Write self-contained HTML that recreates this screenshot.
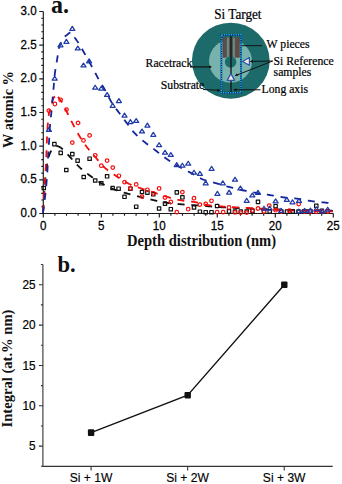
<!DOCTYPE html>
<html><head><meta charset="utf-8"><style>
html,body{margin:0;padding:0;background:#fff;}
body{width:342px;height:484px;overflow:hidden;font-family:"Liberation Sans",sans-serif;}
svg{display:block;}
</style></head><body>
<svg width="342" height="484" viewBox="0 0 342 484">
<rect width="342" height="484" fill="#fff"/>
<g stroke="#1a1a1a" stroke-width="1.15" fill="none">
<path d="M43.3 11.5V213.5H333.3"/>
<path d="M43.3 213.50h-4.0M43.3 206.77h-2.0M43.3 200.03h-2.0M43.3 193.30h-2.0M43.3 186.57h-2.0M43.3 179.84h-4.0M43.3 173.10h-2.0M43.3 166.37h-2.0M43.3 159.64h-2.0M43.3 152.90h-2.0M43.3 146.17h-4.0M43.3 139.44h-2.0M43.3 132.70h-2.0M43.3 125.97h-2.0M43.3 119.24h-2.0M43.3 112.50h-4.0M43.3 105.77h-2.0M43.3 99.04h-2.0M43.3 92.31h-2.0M43.3 85.57h-2.0M43.3 78.84h-4.0M43.3 72.11h-2.0M43.3 65.37h-2.0M43.3 58.64h-2.0M43.3 51.91h-2.0M43.3 45.18h-4.0M43.3 38.44h-2.0M43.3 31.71h-2.0M43.3 24.98h-2.0M43.3 18.24h-2.0M43.3 11.51h-4.0"/>
<path d="M43.30 213.5v4.0M54.90 213.5v2.2M66.50 213.5v2.2M78.10 213.5v2.2M89.70 213.5v2.2M101.30 213.5v4.0M112.90 213.5v2.2M124.50 213.5v2.2M136.10 213.5v2.2M147.70 213.5v2.2M159.30 213.5v4.0M170.90 213.5v2.2M182.50 213.5v2.2M194.10 213.5v2.2M205.70 213.5v2.2M217.30 213.5v4.0M228.90 213.5v2.2M240.50 213.5v2.2M252.10 213.5v2.2M263.70 213.5v2.2M275.30 213.5v4.0M286.90 213.5v2.2M298.50 213.5v2.2M310.10 213.5v2.2M321.70 213.5v2.2M333.30 213.5v4.0"/>
</g>
<g font-family="Liberation Sans, sans-serif" font-size="11.6" fill="#000" stroke="#000" stroke-width="0.25" text-anchor="end">
<text transform="translate(36.6 217.00) scale(1 1.05)">0.0</text>
<text transform="translate(36.6 183.34) scale(1 1.05)">0.5</text>
<text transform="translate(36.6 149.67) scale(1 1.05)">1.0</text>
<text transform="translate(36.6 116.00) scale(1 1.05)">1.5</text>
<text transform="translate(36.6 82.34) scale(1 1.05)">2.0</text>
<text transform="translate(36.6 48.68) scale(1 1.05)">2.5</text>
<text transform="translate(36.6 15.01) scale(1 1.05)">3.0</text>
</g>
<g font-family="Liberation Sans, sans-serif" font-size="11.6" fill="#000" stroke="#000" stroke-width="0.25" text-anchor="middle">
<text transform="translate(43.30 229.7) scale(1 1.05)">0</text>
<text transform="translate(101.30 229.7) scale(1 1.05)">5</text>
<text transform="translate(159.30 229.7) scale(1 1.05)">10</text>
<text transform="translate(217.30 229.7) scale(1 1.05)">15</text>
<text transform="translate(275.30 229.7) scale(1 1.05)">20</text>
<text transform="translate(333.30 229.7) scale(1 1.05)">25</text>
</g>
<text transform="translate(127 245.5) scale(1 1.1)" font-family="Liberation Serif, serif" font-weight="bold" font-size="14.6" fill="#111">Depth distribution (nm)</text>
<text transform="translate(13.3 109.5) rotate(-90)" text-anchor="middle" font-family="Liberation Serif, serif" font-weight="bold" font-size="14.3" fill="#111">W atomic %</text>
<text transform="translate(51 13.2) scale(1 1.05)" font-family="Liberation Serif, serif" font-weight="bold" font-size="24" fill="#111">a.</text>
<path d="M43.00 213.00L43.02 212.67L43.05 212.29L43.08 211.85L43.11 211.37L43.15 210.84L43.18 210.28L43.22 209.69L43.27 209.06L43.31 208.42L43.36 207.75L43.40 207.07L43.45 206.38L43.50 205.68L43.54 204.98L43.59 204.28L43.63 203.59L43.68 202.91L43.72 202.25L43.76 201.61L43.80 201.00L43.84 200.40L43.87 199.80L43.91 199.20L43.94 198.60L43.97 198.00L44.01 197.40L44.04 196.80L44.07 196.20L44.11 195.60L44.14 195.00L44.17 194.40L44.20 193.80L44.24 193.20L44.27 192.60L44.31 192.00L44.34 191.40L44.38 190.80L44.42 190.20L44.46 189.60L44.50 189.00L44.54 188.40L44.59 187.80L44.63 187.19L44.68 186.58L44.72 185.98L44.77 185.37L44.82 184.76L44.86 184.15L44.91 183.54L44.96 182.94L45.01 182.33L45.06 181.73L45.12 181.13L45.17 180.53L45.22 179.93L45.28 179.34L45.33 178.75L45.39 178.16L45.44 177.58L45.50 177.00L45.56 176.42L45.62 175.85L45.68 175.27L45.74 174.69L45.80 174.11L45.86 173.53L45.92 172.96L45.98 172.38L46.05 171.81L46.11 171.25L46.18 170.69L46.24 170.14L46.31 169.59L46.38 169.05L46.45 168.52L46.52 167.99L46.59 167.48L46.66 166.97L46.73 166.48L46.80 166.00L46.87 165.53L46.95 165.07L47.02 164.61L47.10 164.17L47.17 163.73L47.25 163.30L47.33 162.88L47.40 162.46L47.48 162.06L47.56 161.66L47.64 161.26L47.72 160.88L47.81 160.50L47.89 160.12L47.97 159.75L48.06 159.39L48.14 159.04L48.23 158.69L48.31 158.34L48.40 158.00L48.49 157.67L48.57 157.34L48.66 157.03L48.75 156.72L48.84 156.43L48.92 156.13L49.01 155.85L49.10 155.57L49.19 155.30L49.28 155.03L49.37 154.77L49.47 154.51L49.56 154.25L49.66 154.00L49.76 153.75L49.86 153.50L49.97 153.25L50.08 153.00L50.19 152.75L50.30 152.50L50.42 152.25L50.53 152.00L50.65 151.74L50.78 151.49L50.90 151.24L51.03 150.99L51.15 150.74L51.28 150.50L51.42 150.26L51.55 150.02L51.69 149.79L51.82 149.56L51.96 149.34L52.11 149.12L52.25 148.91L52.40 148.71L52.54 148.52L52.69 148.34L52.85 148.16L53.00 148.00L53.16 147.85L53.32 147.70L53.48 147.56L53.65 147.42L53.82 147.29L53.99 147.17L54.17 147.06L54.34 146.95L54.52 146.85L54.70 146.76L54.88 146.67L55.06 146.59L55.24 146.52L55.42 146.45L55.61 146.39L55.79 146.34L55.97 146.29L56.15 146.25L56.32 146.22L56.50 146.20L56.67 146.18L56.85 146.18" fill="none" stroke="#111" stroke-width="1.80" stroke-dasharray="7.00 6.80" stroke-dashoffset="12.70"/>
<path d="M56.85 146.18L57.02 146.18L57.19 146.18L57.36 146.20L57.53 146.22L57.71 146.25L57.88 146.29L58.05 146.33L58.22 146.38L58.39 146.44L58.56 146.50L58.74 146.57L58.91 146.64L59.09 146.72L59.27 146.81L59.45 146.90L59.63 146.99L59.81 147.09L60.00 147.20L60.19 147.31L60.37 147.42L60.56 147.54L60.74 147.66L60.92 147.79L61.11 147.93L61.29 148.07L61.48 148.21L61.67 148.36L61.86 148.52L62.05 148.68L62.25 148.85L62.45 149.03L62.65 149.22L62.86 149.41L63.08 149.61L63.30 149.82L63.52 150.04L63.76 150.26L64.00 150.50L64.24 150.74L64.49 150.99L64.73 151.24L64.98 151.50L65.23 151.76L65.48 152.03L65.73 152.31L65.99 152.60L66.26 152.89L66.53 153.19L66.81 153.51L67.10 153.83L67.40 154.16L67.70 154.50L68.02 154.85L68.35 155.22L68.69 155.59L69.05 155.98L69.42 156.38L69.80 156.80L70.20 157.24L70.62 157.70L71.06 158.18L71.52 158.69L71.99 159.21L72.47 159.75L72.97 160.30L73.47 160.86L73.98 161.43L74.50 162.00L75.02 162.57L75.55 163.15L76.08 163.72L76.61 164.28L77.14 164.84L77.66 165.38L78.18 165.92L78.70 166.43L79.20 166.93L79.70 167.40L80.19 167.86L80.68 168.30L81.16 168.73L81.64 169.15L82.11 169.56L82.59 169.97L83.06 170.36L83.54 170.75L84.01 171.14L84.49 171.52L84.97 171.90L85.45 172.27L85.93 172.64L86.42 173.02L86.92 173.39L87.42 173.76L87.93 174.14L88.44 174.52L88.97 174.91L89.50 175.30L90.04 175.70L90.59 176.10L91.14 176.50L91.70 176.91L92.27 177.32L92.84 177.73L93.41 178.14L93.99 178.55L94.57 178.96L95.16 179.36L95.75 179.77L96.35 180.17L96.95 180.57L97.55 180.96L98.15 181.35L98.76 181.74L99.37 182.11L99.98 182.48L100.59 182.85L101.20 183.20L101.81 183.55L102.43 183.89L103.05 184.23L103.67 184.56L104.29 184.89L104.92 185.21L105.54 185.53L106.17 185.85L106.81 186.16L107.44 186.46L108.08 186.76L108.73 187.06L109.37 187.35L110.02 187.64L110.68 187.93L111.33 188.21L111.99 188.49L112.66 188.76L113.33 189.03L114.00 189.30L114.68 189.56L115.38 189.82L116.08 190.08L116.80 190.33L117.52 190.57L118.25 190.81L118.98 191.05L119.72 191.29L120.46 191.52L121.19 191.74L121.93 191.97L122.66 192.18L123.39 192.40L124.11 192.61L124.82 192.82L125.52 193.02L126.21 193.22L126.89 193.42L127.55 193.61L128.20 193.80L128.83 193.98L129.43 194.16L130.02 194.33L130.60 194.49L131.16 194.65L131.71 194.80L132.25 194.94L132.78 195.09L133.32 195.23L133.84 195.37L134.37 195.51L134.90 195.64L135.44 195.78L135.98 195.92L136.53 196.06L137.09 196.20L137.67 196.34L138.26 196.49L138.87 196.64L139.50 196.80L140.15 196.96L140.81 197.13L141.50 197.30L142.19 197.47L142.90 197.64L143.61 197.82L144.34 197.99L145.07 198.17L145.81 198.35L146.55 198.53L147.29 198.70L148.04 198.88L148.78 199.05L149.52 199.23L150.25 199.40L150.98 199.56L151.70 199.73L152.41 199.89L153.11 200.05L153.80 200.20L154.47 200.35L155.14 200.50L155.79 200.64L156.44 200.79L157.08 200.93L157.71 201.07L158.34 201.21L158.97 201.35L159.59 201.49L160.22 201.62L160.84 201.75L161.47 201.88L162.10 202.00L162.73 202.13L163.37 202.25L164.02 202.36L164.68 202.48L165.34 202.59L166.01 202.70L166.70 202.80L167.40 202.90L168.10 203.00L168.82 203.09L169.54 203.18L170.27 203.26L171.01 203.35L171.75 203.43L172.50 203.50L173.25 203.58L174.00 203.65L174.75 203.72L175.51 203.79L176.27 203.86L177.02 203.92L177.78 203.99L178.53 204.05L179.28 204.11L180.02 204.18L180.76 204.24L181.50 204.30L182.23 204.36L182.96 204.42L183.70 204.48L184.43 204.53L185.16 204.58L185.89 204.63L186.62 204.68L187.35 204.73L188.07 204.78L188.80 204.83L189.53 204.87L190.25 204.92L190.97 204.96L191.70 205.01L192.42 205.05L193.14 205.10L193.85 205.15L194.57 205.20L195.29 205.25L196.00 205.30L196.71 205.35L197.43 205.41L198.14 205.46L198.86 205.52L199.57 205.57L200.28 205.63L201.00 205.69L201.71 205.74L202.42 205.80L203.12 205.86L203.83 205.91L204.53 205.97L205.23 206.03L205.93 206.08L206.62 206.14L207.30 206.19L207.99 206.24L208.66 206.30L209.33 206.35L210.00 206.40L210.64 206.45L211.24 206.50L211.81 206.54L212.36 206.59L212.88 206.63L213.39 206.67L213.89 206.71L214.39 206.76L214.89 206.80L215.41 206.84L215.94 206.88L216.49 206.92L217.08 206.96L217.69 207.01L218.36 207.05L219.06 207.10L219.83 207.15L220.65 207.19L221.54 207.25L222.50 207.30L223.52 207.36L224.59 207.41L225.69 207.47L226.84 207.54L228.03 207.60L229.25 207.66L230.52 207.73L231.82 207.80L233.16 207.86L234.53 207.93L235.94 208.00L237.38 208.07L238.85 208.14L240.36 208.20L241.89 208.27L243.46 208.34L245.05 208.41L246.68 208.47L248.33 208.54L250.00 208.60L251.71 208.66L253.48 208.72L255.29 208.79L257.15 208.85L259.05 208.91L260.99 208.97L262.96 209.04L264.96 209.10L266.98 209.16L269.03 209.22L271.10 209.28L273.18 209.34L275.28 209.40L277.39 209.46L279.50 209.52L281.61 209.57L283.72 209.63L285.82 209.69L287.92 209.74L290.00 209.80L292.13 209.86L294.37 209.91L296.70 209.97L299.10 210.03L301.55 210.09L304.03 210.15L306.54 210.20L309.05 210.26L311.54 210.32L314.00 210.38L316.41 210.43L318.75 210.48L321.01 210.53L323.17 210.58L325.20 210.63L327.10 210.67L328.85 210.71L330.43 210.74L331.82 210.77L333.00 210.80" fill="none" stroke="#111" stroke-width="1.80" stroke-dasharray="7.00 6.80" stroke-dashoffset="0.00"/>
<path d="M43.00 213.00L43.01 212.89L43.02 212.78L43.02 212.66L43.03 212.54L43.04 212.42L43.05 212.28L43.06 212.14L43.07 211.98L43.08 211.82L43.09 211.63L43.11 211.43L43.12 211.21L43.14 210.96L43.16 210.70L43.18 210.41L43.20 210.09L43.22 209.74L43.24 209.36L43.27 208.95L43.30 208.50L43.33 208.01L43.37 207.48L43.40 206.90L43.44 206.29L43.49 205.64L43.53 204.96L43.57 204.25L43.62 203.53L43.67 202.78L43.72 202.02L43.77 201.25L43.82 200.46L43.87 199.68L43.92 198.90L43.97 198.11L44.02 197.34L44.06 196.58L44.11 195.83L44.16 195.11L44.20 194.40L44.24 193.71L44.28 193.02L44.33 192.33L44.37 191.64L44.41 190.95L44.45 190.27L44.49 189.58L44.53 188.90L44.57 188.22L44.61 187.54L44.65 186.86L44.68 186.18L44.72 185.50L44.76 184.83L44.80 184.15L44.84 183.48L44.88 182.81L44.92 182.14L44.96 181.47L45.00 180.80L45.04 180.13L45.08 179.47L45.12 178.81L45.16 178.16L45.20 177.50L45.25 176.85L45.29 176.20L45.33 175.55L45.37 174.90L45.41 174.26L45.45 173.61L45.49 172.96L45.53 172.31L45.57 171.66L45.61 171.01L45.65 170.35L45.69 169.69L45.73 169.03L45.76 168.37L45.80 167.70L45.83 167.03L45.87 166.35L45.90 165.68L45.93 165.00L45.97 164.31L46.00 163.63L46.03 162.95L46.06 162.26L46.09 161.57L46.12 160.88L46.15 160.19L46.18 159.50L46.21 158.81L46.23 158.12L46.26 157.43L46.29 156.74L46.32 156.06L46.34 155.37L46.37 154.68L46.40 154.00L46.43 153.32L46.45 152.64L46.48 151.95L46.50 151.27L46.53 150.59L46.55 149.91L46.57 149.22L46.60 148.54L46.62 147.86L46.64 147.18L46.67 146.50L46.69 145.82L46.71 145.14L46.74 144.46L46.76 143.78L46.79 143.11L46.82 142.43L46.84 141.75L46.87 141.08L46.90 140.40L46.93 139.73L46.96 139.05L46.99 138.38L47.02 137.70L47.05 137.03L47.08 136.35L47.11 135.68L47.14 135.01L47.17 134.33L47.20 133.66L47.23 132.99L47.27 132.32L47.30 131.65L47.34 130.98L47.38 130.32L47.42 129.65L47.46 128.99L47.50 128.32L47.55 127.66L47.60 127.00L47.65 126.34L47.70 125.67L47.75 124.99L47.80 124.32L47.86 123.64L47.91 122.96L47.97 122.28L48.02 121.60L48.08 120.93L48.14 120.26L48.21 119.59L48.27 118.93L48.34 118.28L48.41 117.63L48.48 116.99L48.56 116.37L48.64 115.76L48.72 115.16L48.81 114.57L48.90 114.00L49.00 113.44L49.10 112.89L49.20 112.35L49.31 111.82L49.43 111.30L49.55 110.79L49.67 110.28L49.80 109.79L49.92 109.30L50.05 108.83L50.18 108.36L50.31 107.89L50.44 107.44L50.57 107.00L50.70 106.56L50.82 106.13L50.95 105.71L51.07 105.30L51.19 104.90L51.30 104.50L51.41 104.11L51.52 103.73L51.63 103.35L51.73 102.99L51.83 102.63L51.94 102.27L52.04 101.93L52.14 101.60L52.24 101.27L52.34 100.95L52.44 100.64L52.54 100.34L52.64 100.05L52.74 99.77L52.85 99.50L52.95 99.24L53.06 98.99L53.17 98.75L53.28 98.52L53.40 98.30L53.52 98.09L53.64 97.89L53.76 97.71L53.89 97.53L54.02 97.36L54.15 97.20L54.28 97.06L54.41 96.92L54.54 96.79L54.68 96.67L54.81 96.56L54.94 96.46L55.08 96.37L55.21 96.29L55.35 96.22L55.48 96.15L55.61 96.10L55.74 96.06L55.87 96.02L56.00 96.00L56.13 95.99" fill="none" stroke="#f50c0c" stroke-width="1.80" stroke-dasharray="7.00 6.80" stroke-dashoffset="13.15"/>
<path d="M56.13 95.99L56.26 95.99L56.39 96.01L56.52 96.04L56.65 96.08L56.78 96.14L56.91 96.20L57.04 96.27L57.17 96.36L57.29 96.44L57.42 96.54L57.55 96.64L57.67 96.74L57.80 96.85L57.92 96.96L58.04 97.07L58.16 97.18L58.27 97.29L58.39 97.40L58.50 97.50L58.61 97.60L58.71 97.71L58.81 97.82L58.91 97.93L59.00 98.04L59.09 98.16L59.18 98.28L59.27 98.40L59.36 98.52L59.44 98.65L59.53 98.78L59.62 98.91L59.71 99.05L59.80 99.19L59.89 99.33L59.98 99.48L60.08 99.63L60.18 99.78L60.29 99.94L60.40 100.10L60.51 100.26L60.62 100.42L60.74 100.57L60.85 100.72L60.96 100.87L61.08 101.02L61.19 101.18L61.31 101.34L61.43 101.50L61.56 101.67L61.68 101.85L61.81 102.03L61.94 102.23L62.08 102.44L62.22 102.66L62.37 102.89L62.52 103.14L62.67 103.41L62.83 103.70L63.00 104.00L63.17 104.32L63.35 104.66L63.53 105.02L63.71 105.39L63.90 105.77L64.09 106.17L64.29 106.57L64.49 107.00L64.69 107.43L64.90 107.87L65.11 108.32L65.33 108.78L65.55 109.25L65.77 109.73L66.00 110.21L66.23 110.70L66.47 111.19L66.71 111.69L66.95 112.19L67.20 112.70L67.45 113.21L67.71 113.74L67.97 114.27L68.23 114.81L68.50 115.36L68.78 115.92L69.05 116.48L69.33 117.05L69.62 117.63L69.91 118.22L70.20 118.81L70.50 119.41L70.80 120.01L71.10 120.61L71.41 121.22L71.72 121.83L72.03 122.45L72.35 123.06L72.67 123.68L73.00 124.30L73.33 124.93L73.67 125.57L74.02 126.22L74.37 126.89L74.73 127.56L75.09 128.24L75.46 128.93L75.83 129.62L76.21 130.31L76.58 131.00L76.96 131.69L77.34 132.37L77.71 133.05L78.09 133.72L78.47 134.39L78.84 135.04L79.21 135.68L79.58 136.30L79.94 136.91L80.30 137.50L80.65 138.07L81.00 138.63L81.34 139.17L81.68 139.70L82.02 140.23L82.35 140.74L82.68 141.24L83.01 141.73L83.34 142.22L83.67 142.70L84.01 143.18L84.34 143.65L84.68 144.13L85.02 144.60L85.37 145.08L85.72 145.55L86.08 146.03L86.45 146.51L86.82 147.00L87.20 147.50L87.59 148.00L87.98 148.50L88.38 149.00L88.79 149.50L89.20 150.00L89.62 150.49L90.04 150.99L90.46 151.49L90.89 151.99L91.32 152.49L91.75 152.99L92.19 153.49L92.62 153.99L93.06 154.49L93.50 154.99L93.94 155.49L94.38 155.99L94.82 156.49L95.26 157.00L95.70 157.50L96.14 158.01L96.57 158.52L97.00 159.04L97.43 159.56L97.86 160.08L98.29 160.61L98.72 161.13L99.15 161.66L99.58 162.18L100.02 162.71L100.46 163.23L100.90 163.75L101.35 164.26L101.81 164.77L102.27 165.28L102.74 165.78L103.22 166.27L103.70 166.76L104.20 167.23L104.70 167.70L105.21 168.16L105.74 168.61L106.27 169.05L106.81 169.49L107.35 169.92L107.91 170.35L108.46 170.77L109.03 171.19L109.60 171.60L110.18 172.01L110.75 172.41L111.34 172.81L111.93 173.22L112.52 173.61L113.11 174.01L113.70 174.41L114.30 174.81L114.90 175.20L115.50 175.60L116.10 176.00L116.70 176.40L117.31 176.81L117.93 177.22L118.55 177.63L119.17 178.04L119.80 178.45L120.43 178.86L121.07 179.27L121.71 179.67L122.34 180.07L122.98 180.47L123.62 180.86L124.26 181.25L124.90 181.63L125.54 182.00L126.18 182.36L126.81 182.71L127.45 183.05L128.08 183.38L128.70 183.70L129.32 184.00L129.94 184.29L130.56 184.57L131.17 184.84L131.78 185.10L132.40 185.35L133.01 185.59L133.62 185.82L134.23 186.05L134.84 186.27L135.45 186.49L136.06 186.71L136.67 186.92L137.28 187.13L137.90 187.34L138.51 187.55L139.13 187.76L139.75 187.97L140.37 188.18L141.00 188.40L141.63 188.62L142.26 188.83L142.90 189.05L143.53 189.26L144.17 189.47L144.81 189.67L145.45 189.88L146.10 190.08L146.74 190.29L147.39 190.49L148.03 190.69L148.68 190.89L149.32 191.09L149.97 191.29L150.61 191.49L151.25 191.69L151.89 191.89L152.53 192.09L153.17 192.30L153.80 192.50L154.43 192.71L155.06 192.91L155.68 193.12L156.30 193.33L156.91 193.54L157.53 193.75L158.14 193.95L158.75 194.16L159.37 194.37L159.98 194.58L160.60 194.79L161.21 195.00L161.83 195.20L162.46 195.41L163.08 195.61L163.72 195.81L164.35 196.01L164.99 196.21L165.64 196.41L166.30 196.60L166.96 196.79L167.63 196.99L168.30 197.18L168.98 197.38L169.66 197.57L170.35 197.77L171.04 197.96L171.73 198.16L172.43 198.35L173.13 198.54L173.83 198.72L174.53 198.91L175.23 199.09L175.94 199.26L176.65 199.43L177.36 199.60L178.07 199.76L178.78 199.91L179.49 200.06L180.20 200.20L180.91 200.33L181.63 200.45L182.36 200.57L183.09 200.67L183.82 200.77L184.56 200.86L185.30 200.95L186.04 201.03L186.78 201.12L187.52 201.19L188.26 201.27L188.99 201.35L189.73 201.43L190.46 201.51L191.18 201.59L191.90 201.68L192.61 201.78L193.32 201.88L194.01 201.98L194.70 202.10L195.38 202.22L196.04 202.36L196.69 202.49L197.34 202.64L197.97 202.79L198.60 202.94L199.22 203.10L199.84 203.26L200.46 203.41L201.07 203.58L201.69 203.73L202.31 203.89L202.93 204.05L203.56 204.20L204.19 204.35L204.83 204.49L205.48 204.63L206.14 204.76L206.81 204.89L207.50 205.00L208.20 205.11L208.91 205.21L209.64 205.31L210.37 205.40L211.12 205.49L211.87 205.57L212.63 205.66L213.40 205.73L214.16 205.81L214.93 205.88L215.70 205.95L216.47 206.02L217.23 206.08L218.00 206.15L218.75 206.21L219.50 206.27L220.24 206.33L220.97 206.38L221.69 206.44L222.40 206.50L223.09 206.56L223.78 206.61L224.45 206.66L225.12 206.71L225.78 206.75L226.43 206.79L227.08 206.84L227.72 206.88L228.36 206.91L229.00 206.95L229.64 206.99L230.27 207.02L230.91 207.06L231.55 207.09L232.20 207.12L232.84 207.16L233.50 207.19L234.16 207.23L234.82 207.26L235.50 207.30L236.18 207.34L236.86 207.37L237.55 207.41L238.24 207.44L238.92 207.48L239.62 207.51L240.31 207.54L241.01 207.57L241.70 207.61L242.41 207.64L243.11 207.67L243.82 207.70L244.53 207.74L245.24 207.77L245.96 207.81L246.68 207.84L247.40 207.88L248.13 207.92L248.86 207.96L249.60 208.00L250.33 208.04L251.04 208.09L251.74 208.13L252.43 208.17L253.11 208.21L253.79 208.26L254.47 208.30L255.16 208.35L255.85 208.40L256.56 208.44L257.28 208.49L258.01 208.54L258.77 208.59L259.56 208.65L260.37 208.70L261.22 208.76L262.10 208.81L263.02 208.87L263.99 208.94L265.00 209.00L266.04 209.07L267.10 209.14L268.17 209.22L269.27 209.30L270.38 209.38L271.52 209.46L272.68 209.55L273.87 209.64L275.09 209.73L276.34 209.82L277.62 209.91L278.94 210.00L280.29 210.08L281.69 210.17L283.13 210.25L284.61 210.33L286.13 210.40L287.70 210.47L289.33 210.54L291.00 210.60L292.79 210.66L294.74 210.71L296.83 210.76L299.05 210.81L301.36 210.85L303.75 210.90L306.19 210.94L308.66 210.98L311.15 211.02L313.62 211.05L316.07 211.08L318.46 211.11L320.77 211.14L322.98 211.17L325.08 211.20L327.03 211.22L328.82 211.24L330.43 211.26L331.83 211.28L333.00 211.30" fill="none" stroke="#f50c0c" stroke-width="1.80" stroke-dasharray="7.00 6.80" stroke-dashoffset="11.80"/>
<path d="M43.00 213.00L43.04 212.72L43.08 212.40L43.13 212.02L43.18 211.61L43.24 211.16L43.30 210.68L43.37 210.17L43.44 209.63L43.51 209.08L43.59 208.51L43.66 207.93L43.74 207.35L43.82 206.77L43.89 206.18L43.97 205.61L44.04 205.04L44.11 204.50L44.18 203.97L44.24 203.47L44.30 203.00L44.36 202.56L44.41 202.13L44.46 201.72L44.51 201.32L44.56 200.94L44.61 200.56L44.66 200.19L44.71 199.83L44.75 199.46L44.80 199.09L44.85 198.72L44.89 198.35L44.94 197.96L44.99 197.56L45.04 197.15L45.09 196.72L45.14 196.28L45.19 195.81L45.24 195.32L45.30 194.80L45.36 194.26L45.42 193.69L45.48 193.10L45.55 192.49L45.61 191.86L45.68 191.22L45.75 190.57L45.82 189.90L45.89 189.22L45.96 188.54L46.03 187.85L46.09 187.15L46.16 186.46L46.23 185.76L46.30 185.07L46.36 184.38L46.42 183.70L46.48 183.02L46.54 182.35L46.60 181.70L46.65 181.05L46.71 180.41L46.76 179.78L46.81 179.14L46.86 178.51L46.91 177.88L46.95 177.25L47.00 176.62L47.04 175.99L47.09 175.36L47.13 174.73L47.17 174.10L47.22 173.46L47.26 172.83L47.30 172.18L47.34 171.54L47.38 170.89L47.42 170.23L47.46 169.57L47.50 168.90L47.54 168.22L47.58 167.54L47.61 166.86L47.65 166.17L47.68 165.47L47.72 164.78L47.75 164.07L47.78 163.37L47.82 162.66L47.85 161.95L47.88 161.24L47.92 160.52L47.95 159.81L47.98 159.09L48.02 158.38L48.05 157.66L48.09 156.94L48.12 156.23L48.16 155.51L48.20 154.80L48.24 154.09L48.28 153.37L48.33 152.65L48.37 151.93L48.41 151.20L48.46 150.48L48.50 149.75L48.55 149.02L48.60 148.30L48.64 147.57L48.69 146.84L48.74 146.12L48.78 145.39L48.83 144.67L48.88 143.95L48.92 143.23L48.97 142.52L49.01 141.81L49.06 141.10L49.10 140.40L49.14 139.70L49.18 139.00L49.22 138.31L49.26 137.61L49.30 136.92L49.33 136.23L49.37 135.55L49.40 134.86L49.44 134.18L49.48 133.49L49.51 132.81L49.55 132.14L49.59 131.46L49.63 130.79L49.67 130.12L49.71 129.45L49.75 128.78L49.80 128.12L49.85 127.46L49.90 126.80L49.95 126.15L50.01 125.50L50.07 124.86L50.13 124.22L50.19 123.59L50.25 122.96L50.32 122.34L50.38 121.72L50.45 121.10L50.52 120.47L50.59 119.85L50.66 119.23L50.73 118.61L50.79 117.98L50.86 117.35L50.93 116.71L51.00 116.07L51.07 115.42L51.13 114.76L51.20 114.10L51.27 113.43L51.33 112.74L51.40 112.05L51.46 111.36L51.53 110.65L51.60 109.94L51.66 109.23L51.73 108.51L51.80 107.79L51.86 107.08L51.93 106.36L51.99 105.64L52.06 104.93L52.12 104.22L52.19 103.51L52.25 102.81L52.32 102.12L52.38 101.44L52.44 100.76L52.50 100.10L52.56 99.45L52.62 98.81L52.67 98.18L52.73 97.57L52.78 96.96L52.84 96.35L52.89 95.76L52.94 95.16L53.00 94.57L53.05 93.98L53.10 93.39L53.16 92.80L53.21 92.20L53.26 91.60L53.32 90.99L53.37 90.37L53.43 89.75L53.48 89.11L53.54 88.46L53.60 87.80L53.66 87.12L53.72 86.43L53.78 85.72L53.84 85.01L53.89 84.28L53.95 83.55L54.01 82.80L54.07 82.06L54.13 81.31L54.19 80.56L54.26 79.80L54.32 79.05L54.39 78.31L54.45 77.56L54.52 76.83L54.59 76.10L54.67 75.38L54.74 74.67L54.82 73.98L54.90 73.30L54.98 72.63L55.07 71.97L55.16 71.33L55.26 70.69L55.35 70.05L55.45 69.43L55.55 68.80L55.65 68.19L55.75 67.58L55.86 66.97L55.96 66.36L56.07 65.76L56.17 65.16L56.28 64.55L56.38 63.95L56.49 63.35L56.59 62.74L56.70 62.13L56.80 61.52L56.90 60.90L57.00 60.27L57.10 59.63L57.20 58.97L57.30 58.30L57.40 57.63L57.51 56.95L57.61 56.27L57.71 55.59L57.81 54.92L57.91 54.25L58.01 53.59L58.11 52.94L58.21 52.31L58.31 51.69L58.41 51.09L58.51 50.52L58.61 49.97L58.71 49.45L58.80 48.96L58.90 48.50L58.99 48.08L59.09 47.69L59.18 47.33L59.26 47.00L59.35 46.69L59.44 46.41L59.52 46.14L59.61 45.90L59.70 45.66L59.78 45.44L59.87 45.23L59.95 45.03L60.04 44.83L60.13 44.63L60.22 44.42L60.31 44.22L60.40 44.01L60.50 43.78L60.60 43.55L60.70 43.30L60.80 43.04L60.90 42.78L61.01 42.51L61.11 42.24L61.21 41.97L61.32 41.69L61.42 41.42L61.53 41.15L61.63 40.88L61.74 40.61L61.86 40.34L61.97 40.08L62.09 39.82L62.21 39.57L62.33 39.32L62.46 39.08L62.59 38.84L62.72 38.62L62.86 38.41L63.00 38.20L63.15 38.01L63.30 37.82L63.45 37.64L63.61 37.48L63.77 37.32L63.93 37.16L64.10 37.01L64.27 36.87L64.44 36.73L64.61 36.60L64.79 36.47L64.97 36.34L65.15 36.21L65.34 36.09L65.53 35.96L65.72 35.83L65.91 35.70L66.10 35.57L66.30 35.44L66.50 35.30L66.70 35.15L66.91 34.99L67.13 34.81L67.34 34.62L67.57 34.42L67.79 34.22L68.02 34.02L68.25 33.82L68.48 33.62L68.72 33.43L68.95 33.25L69.19 33.09L69.42 32.94L69.66 32.81L69.89 32.70L70.12 32.62L70.34 32.56L70.57 32.54" fill="none" stroke="#13259a" stroke-width="1.80" stroke-dasharray="7.00 6.80" stroke-dashoffset="0.50"/>
<path d="M70.57 32.54L70.79 32.55L71.00 32.60L71.21 32.69L71.42 32.81L71.63 32.97L71.83 33.16L72.04 33.37L72.24 33.61L72.44 33.88L72.64 34.16L72.83 34.46L73.03 34.77L73.23 35.09L73.42 35.42L73.62 35.76L73.82 36.10L74.01 36.43L74.21 36.76L74.40 37.09L74.60 37.41L74.80 37.71L75.00 38.00L75.20 38.28L75.40 38.55L75.59 38.82L75.78 39.09L75.98 39.35L76.17 39.62L76.36 39.88L76.55 40.15L76.74 40.42L76.94 40.69L77.13 40.97L77.33 41.25L77.53 41.54L77.73 41.83L77.93 42.14L78.14 42.45L78.35 42.77L78.56 43.10L78.78 43.44L79.00 43.80L79.23 44.17L79.46 44.55L79.70 44.94L79.94 45.35L80.18 45.76L80.43 46.19L80.68 46.62L80.93 47.06L81.18 47.50L81.44 47.95L81.69 48.40L81.95 48.86L82.21 49.32L82.47 49.78L82.73 50.24L82.98 50.69L83.24 51.15L83.50 51.60L83.75 52.05L84.00 52.50L84.25 52.94L84.50 53.39L84.75 53.83L85.00 54.28L85.25 54.73L85.50 55.18L85.75 55.63L86.00 56.08L86.25 56.53L86.50 56.98L86.75 57.43L87.00 57.89L87.25 58.34L87.50 58.79L87.75 59.24L88.00 59.70L88.25 60.15L88.50 60.60L88.75 61.05L89.00 61.50L89.25 61.95L89.50 62.40L89.75 62.85L90.00 63.29L90.25 63.74L90.50 64.18L90.75 64.63L91.00 65.08L91.25 65.52L91.50 65.97L91.75 66.42L92.00 66.86L92.25 67.31L92.50 67.76L92.75 68.21L93.00 68.67L93.25 69.12L93.50 69.58L93.75 70.04L94.00 70.50L94.25 70.96L94.50 71.43L94.74 71.89L94.98 72.36L95.23 72.83L95.47 73.30L95.71 73.77L95.95 74.24L96.19 74.71L96.44 75.19L96.68 75.66L96.93 76.14L97.18 76.62L97.43 77.10L97.68 77.58L97.94 78.06L98.20 78.54L98.46 79.03L98.73 79.51L99.00 80.00L99.28 80.49L99.55 80.97L99.84 81.44L100.12 81.92L100.41 82.39L100.70 82.87L100.99 83.34L101.28 83.82L101.58 84.30L101.88 84.78L102.18 85.27L102.48 85.76L102.79 86.26L103.09 86.76L103.41 87.28L103.72 87.80L104.04 88.33L104.36 88.88L104.68 89.43L105.00 90.00L105.33 90.58L105.66 91.19L105.99 91.81L106.32 92.44L106.66 93.09L107.00 93.74L107.34 94.41L107.68 95.08L108.03 95.76L108.38 96.44L108.73 97.12L109.08 97.80L109.44 98.48L109.80 99.15L110.16 99.82L110.52 100.48L110.89 101.13L111.25 101.77L111.63 102.39L112.00 103.00L112.38 103.60L112.76 104.19L113.16 104.77L113.55 105.36L113.95 105.93L114.36 106.50L114.77 107.07L115.18 107.63L115.59 108.18L116.00 108.73L116.41 109.28L116.82 109.82L117.23 110.36L117.64 110.89L118.05 111.42L118.45 111.94L118.84 112.46L119.24 112.98L119.62 113.49L120.00 114.00L120.37 114.50L120.74 115.00L121.10 115.48L121.46 115.96L121.81 116.44L122.16 116.90L122.50 117.36L122.85 117.82L123.19 118.28L123.53 118.73L123.87 119.18L124.21 119.63L124.55 120.08L124.89 120.53L125.24 120.99L125.58 121.44L125.93 121.90L126.28 122.36L126.64 122.83L127.00 123.30L127.36 123.78L127.72 124.26L128.07 124.74L128.43 125.23L128.78 125.71L129.13 126.20L129.49 126.69L129.84 127.18L130.20 127.68L130.56 128.17L130.93 128.66L131.30 129.15L131.67 129.64L132.05 130.13L132.44 130.61L132.83 131.10L133.23 131.58L133.65 132.06L134.07 132.53L134.50 133.00L134.94 133.47L135.40 133.93L135.86 134.40L136.33 134.86L136.81 135.32L137.30 135.78L137.80 136.24L138.30 136.70L138.80 137.15L139.31 137.61L139.83 138.06L140.34 138.51L140.86 138.95L141.38 139.40L141.91 139.84L142.43 140.28L142.95 140.71L143.47 141.14L143.99 141.57L144.50 142.00L145.01 142.42L145.53 142.84L146.05 143.26L146.58 143.67L147.10 144.08L147.63 144.48L148.16 144.89L148.69 145.29L149.22 145.68L149.75 146.08L150.28 146.48L150.81 146.87L151.34 147.26L151.87 147.65L152.40 148.04L152.92 148.44L153.45 148.83L153.97 149.22L154.49 149.61L155.00 150.00L155.51 150.39L156.02 150.78L156.52 151.18L157.02 151.57L157.51 151.96L158.01 152.34L158.50 152.73L158.99 153.12L159.48 153.51L159.97 153.89L160.46 154.28L160.95 154.66L161.45 155.05L161.94 155.43L162.44 155.81L162.94 156.19L163.45 156.57L163.96 156.95L164.48 157.32L165.00 157.70L165.52 158.07L166.04 158.44L166.56 158.81L167.07 159.17L167.59 159.54L168.10 159.90L168.62 160.26L169.14 160.62L169.66 160.97L170.19 161.33L170.72 161.69L171.26 162.05L171.81 162.41L172.37 162.77L172.95 163.14L173.53 163.50L174.12 163.87L174.73 164.24L175.36 164.62L176.00 165.00L176.66 165.39L177.35 165.78L178.06 166.18L178.79 166.58L179.54 166.99L180.30 167.40L181.07 167.81L181.86 168.22L182.64 168.64L183.44 169.05L184.23 169.46L185.02 169.87L185.81 170.28L186.59 170.69L187.37 171.09L188.13 171.48L188.87 171.87L189.60 172.26L190.31 172.63L191.00 173.00L191.67 173.36L192.32 173.72L192.95 174.08L193.58 174.44L194.19 174.80L194.79 175.15L195.38 175.50L195.97 175.84L196.55 176.18L197.12 176.52L197.70 176.85L198.27 177.17L198.85 177.49L199.42 177.80L200.00 178.11L200.58 178.40L201.17 178.69L201.77 178.97L202.38 179.24L203.00 179.50L203.63 179.75L204.25 179.98L204.89 180.20L205.52 180.41L206.16 180.61L206.79 180.81L207.44 180.99L208.08 181.17L208.73 181.34L209.38 181.51L210.03 181.67L210.68 181.83L211.34 181.99L212.00 182.16L212.66 182.32L213.32 182.49L213.99 182.66L214.66 182.83L215.33 183.01L216.00 183.20L216.67 183.39L217.33 183.59L217.99 183.78L218.64 183.97L219.29 184.16L219.94 184.36L220.59 184.55L221.24 184.75L221.90 184.95L222.56 185.14L223.24 185.34L223.92 185.54L224.62 185.74L225.33 185.95L226.05 186.15L226.80 186.36L227.57 186.56L228.35 186.77L229.16 186.99L230.00 187.20L230.87 187.42L231.76 187.64L232.68 187.87L233.62 188.10L234.59 188.34L235.57 188.58L236.58 188.82L237.59 189.06L238.62 189.31L239.66 189.55L240.70 189.79L241.75 190.03L242.80 190.27L243.85 190.50L244.89 190.73L245.94 190.96L246.97 191.18L247.99 191.39L249.00 191.60L250.00 191.80L250.99 191.99L251.99 192.18L253.00 192.36L254.00 192.54L255.02 192.71L256.03 192.88L257.04 193.05L258.05 193.21L259.06 193.37L260.06 193.53L261.06 193.69L262.05 193.84L263.03 193.99L264.00 194.14L264.95 194.28L265.90 194.43L266.82 194.57L267.73 194.71L268.63 194.86L269.50 195.00L270.35 195.14L271.19 195.28L272.01 195.43L272.82 195.57L273.61 195.70L274.39 195.84L275.16 195.98L275.92 196.11L276.67 196.25L277.41 196.38L278.14 196.50L278.86 196.63L279.58 196.75L280.29 196.87L281.00 196.98L281.70 197.09L282.40 197.20L283.10 197.31L283.80 197.41L284.50 197.50L285.19 197.59L285.87 197.67L286.54 197.74L287.20 197.80L287.86 197.86L288.50 197.91L289.14 197.96L289.77 198.01L290.40 198.06L291.03 198.10L291.66 198.14L292.29 198.19L292.92 198.24L293.55 198.29L294.19 198.34L294.84 198.40L295.49 198.46L296.15 198.53L296.82 198.61L297.50 198.70L298.19 198.80L298.89 198.90L299.60 199.01L300.31 199.13L301.03 199.26L301.76 199.39L302.48 199.52L303.22 199.65L303.95 199.79L304.69 199.93L305.43 200.07L306.16 200.21L306.90 200.35L307.64 200.48L308.38 200.61L309.11 200.74L309.84 200.87L310.56 200.98L311.28 201.10L312.00 201.20L312.72 201.30L313.45 201.39L314.19 201.49L314.94 201.58L315.70 201.66L316.46 201.75L317.22 201.83L317.97 201.91L318.72 201.98L319.47 202.06L320.20 202.13L320.93 202.20L321.64 202.27L322.33 202.33L323.00 202.40L323.66 202.46L324.28 202.52L324.89 202.58L325.46 202.64L326.00 202.70L326.52 202.76L327.01 202.81L327.50 202.87L327.96 202.92L328.41 202.97L328.83 203.02L329.25 203.06L329.64 203.11L330.02 203.15L330.38 203.19L330.72 203.23L331.04 203.27L331.35 203.31L331.64 203.34L331.91 203.37L332.16 203.40L332.40 203.43L332.62 203.46L332.82 203.48L333.00 203.50" fill="none" stroke="#13259a" stroke-width="1.80" stroke-dasharray="7.00 6.80" stroke-dashoffset="7.50"/>
<path d="M42.10 186.30h3.4v3.4h-3.4ZM52.70 142.40h3.4v3.4h-3.4ZM59.00 151.20h3.4v3.4h-3.4ZM64.60 168.30h3.4v3.4h-3.4ZM70.60 152.40h3.4v3.4h-3.4ZM75.90 158.90h3.4v3.4h-3.4ZM82.00 175.30h3.4v3.4h-3.4ZM87.90 157.00h3.4v3.4h-3.4ZM93.50 178.80h3.4v3.4h-3.4ZM99.60 181.60h3.4v3.4h-3.4ZM105.40 174.60h3.4v3.4h-3.4ZM110.90 186.30h3.4v3.4h-3.4ZM116.90 187.00h3.4v3.4h-3.4ZM122.80 195.10h3.4v3.4h-3.4ZM128.70 187.00h3.4v3.4h-3.4ZM134.50 205.00h3.4v3.4h-3.4ZM140.30 190.30h3.4v3.4h-3.4ZM145.70 190.90h3.4v3.4h-3.4ZM151.60 192.60h3.4v3.4h-3.4ZM157.40 206.80h3.4v3.4h-3.4ZM163.30 201.90h3.4v3.4h-3.4ZM169.10 207.50h3.4v3.4h-3.4ZM175.10 190.70h3.4v3.4h-3.4ZM180.70 195.60h3.4v3.4h-3.4ZM192.30 205.80h3.4v3.4h-3.4ZM198.20 210.00h3.4v3.4h-3.4ZM204.00 210.50h3.4v3.4h-3.4ZM209.80 210.50h3.4v3.4h-3.4ZM215.40 204.30h3.4v3.4h-3.4ZM227.30 209.60h3.4v3.4h-3.4ZM233.30 209.90h3.4v3.4h-3.4ZM239.10 209.90h3.4v3.4h-3.4ZM245.00 209.90h3.4v3.4h-3.4ZM250.80 209.10h3.4v3.4h-3.4ZM256.30 200.20h3.4v3.4h-3.4ZM262.30 209.90h3.4v3.4h-3.4ZM268.00 209.70h3.4v3.4h-3.4ZM273.90 204.50h3.4v3.4h-3.4ZM279.60 209.90h3.4v3.4h-3.4ZM285.30 209.90h3.4v3.4h-3.4ZM291.10 209.70h3.4v3.4h-3.4ZM296.80 209.90h3.4v3.4h-3.4ZM302.90 209.90h3.4v3.4h-3.4ZM308.70 209.70h3.4v3.4h-3.4ZM314.60 204.10h3.4v3.4h-3.4ZM320.20 209.00h3.4v3.4h-3.4ZM326.00 209.70h3.4v3.4h-3.4Z" fill="none" stroke="#111" stroke-width="1.2" stroke-linejoin="round"/>
<path d="M47.00 110.60a1.8 1.8 0 1 0 3.6 0a1.8 1.8 0 1 0 -3.6 0ZM53.10 104.00a1.8 1.8 0 1 0 3.6 0a1.8 1.8 0 1 0 -3.6 0ZM58.80 99.80a1.8 1.8 0 1 0 3.6 0a1.8 1.8 0 1 0 -3.6 0ZM64.70 109.60a1.8 1.8 0 1 0 3.6 0a1.8 1.8 0 1 0 -3.6 0ZM70.50 142.60a1.8 1.8 0 1 0 3.6 0a1.8 1.8 0 1 0 -3.6 0ZM76.25 122.90a1.8 1.8 0 1 0 3.6 0a1.8 1.8 0 1 0 -3.6 0ZM81.70 140.40a1.8 1.8 0 1 0 3.6 0a1.8 1.8 0 1 0 -3.6 0ZM87.80 135.40a1.8 1.8 0 1 0 3.6 0a1.8 1.8 0 1 0 -3.6 0ZM93.40 155.30a1.8 1.8 0 1 0 3.6 0a1.8 1.8 0 1 0 -3.6 0ZM99.50 165.70a1.8 1.8 0 1 0 3.6 0a1.8 1.8 0 1 0 -3.6 0ZM105.30 160.60a1.8 1.8 0 1 0 3.6 0a1.8 1.8 0 1 0 -3.6 0ZM111.00 167.60a1.8 1.8 0 1 0 3.6 0a1.8 1.8 0 1 0 -3.6 0ZM117.10 175.80a1.8 1.8 0 1 0 3.6 0a1.8 1.8 0 1 0 -3.6 0ZM122.70 182.10a1.8 1.8 0 1 0 3.6 0a1.8 1.8 0 1 0 -3.6 0ZM128.60 188.40a1.8 1.8 0 1 0 3.6 0a1.8 1.8 0 1 0 -3.6 0ZM134.40 184.40a1.8 1.8 0 1 0 3.6 0a1.8 1.8 0 1 0 -3.6 0ZM140.20 196.60a1.8 1.8 0 1 0 3.6 0a1.8 1.8 0 1 0 -3.6 0ZM145.60 189.80a1.8 1.8 0 1 0 3.6 0a1.8 1.8 0 1 0 -3.6 0ZM151.50 193.30a1.8 1.8 0 1 0 3.6 0a1.8 1.8 0 1 0 -3.6 0ZM157.30 188.40a1.8 1.8 0 1 0 3.6 0a1.8 1.8 0 1 0 -3.6 0ZM163.20 197.50a1.8 1.8 0 1 0 3.6 0a1.8 1.8 0 1 0 -3.6 0ZM169.00 202.00a1.8 1.8 0 1 0 3.6 0a1.8 1.8 0 1 0 -3.6 0ZM175.00 212.20a1.8 1.8 0 1 0 3.6 0a1.8 1.8 0 1 0 -3.6 0ZM180.60 192.10a1.8 1.8 0 1 0 3.6 0a1.8 1.8 0 1 0 -3.6 0ZM186.40 209.20a1.8 1.8 0 1 0 3.6 0a1.8 1.8 0 1 0 -3.6 0ZM192.20 198.20a1.8 1.8 0 1 0 3.6 0a1.8 1.8 0 1 0 -3.6 0ZM198.10 204.60a1.8 1.8 0 1 0 3.6 0a1.8 1.8 0 1 0 -3.6 0ZM203.90 204.00a1.8 1.8 0 1 0 3.6 0a1.8 1.8 0 1 0 -3.6 0ZM209.70 200.80a1.8 1.8 0 1 0 3.6 0a1.8 1.8 0 1 0 -3.6 0ZM215.30 212.20a1.8 1.8 0 1 0 3.6 0a1.8 1.8 0 1 0 -3.6 0ZM221.40 212.20a1.8 1.8 0 1 0 3.6 0a1.8 1.8 0 1 0 -3.6 0ZM227.20 207.50a1.8 1.8 0 1 0 3.6 0a1.8 1.8 0 1 0 -3.6 0ZM233.20 212.40a1.8 1.8 0 1 0 3.6 0a1.8 1.8 0 1 0 -3.6 0ZM239.00 212.60a1.8 1.8 0 1 0 3.6 0a1.8 1.8 0 1 0 -3.6 0ZM244.90 212.60a1.8 1.8 0 1 0 3.6 0a1.8 1.8 0 1 0 -3.6 0ZM250.70 210.50a1.8 1.8 0 1 0 3.6 0a1.8 1.8 0 1 0 -3.6 0ZM256.20 208.50a1.8 1.8 0 1 0 3.6 0a1.8 1.8 0 1 0 -3.6 0ZM262.10 211.50a1.8 1.8 0 1 0 3.6 0a1.8 1.8 0 1 0 -3.6 0ZM267.50 205.60a1.8 1.8 0 1 0 3.6 0a1.8 1.8 0 1 0 -3.6 0ZM273.80 210.20a1.8 1.8 0 1 0 3.6 0a1.8 1.8 0 1 0 -3.6 0ZM279.50 211.50a1.8 1.8 0 1 0 3.6 0a1.8 1.8 0 1 0 -3.6 0ZM287.70 210.70a1.8 1.8 0 1 0 3.6 0a1.8 1.8 0 1 0 -3.6 0ZM296.90 204.10a1.8 1.8 0 1 0 3.6 0a1.8 1.8 0 1 0 -3.6 0ZM302.80 211.50a1.8 1.8 0 1 0 3.6 0a1.8 1.8 0 1 0 -3.6 0ZM308.60 211.50a1.8 1.8 0 1 0 3.6 0a1.8 1.8 0 1 0 -3.6 0ZM314.50 211.50a1.8 1.8 0 1 0 3.6 0a1.8 1.8 0 1 0 -3.6 0ZM320.40 211.30a1.8 1.8 0 1 0 3.6 0a1.8 1.8 0 1 0 -3.6 0ZM326.20 211.50a1.8 1.8 0 1 0 3.6 0a1.8 1.8 0 1 0 -3.6 0Z" fill="none" stroke="#f50c0c" stroke-width="1.2"/>
<path d="M48.90 127.55L51.40 131.45L46.40 131.45ZM54.70 76.25L57.20 80.15L52.20 80.15ZM60.50 42.85L63.00 46.75L58.00 46.75ZM66.40 39.35L68.90 43.25L63.90 43.25ZM72.30 26.45L74.80 30.35L69.80 30.35ZM77.80 46.05L80.30 49.95L75.30 49.95ZM83.50 63.05L86.00 66.95L81.00 66.95ZM89.10 58.85L91.60 62.75L86.60 62.75ZM95.20 85.25L97.70 89.15L92.70 89.15ZM101.30 86.25L103.80 90.15L98.80 90.15ZM107.10 92.55L109.60 96.45L104.60 96.45ZM112.70 103.35L115.20 107.25L110.20 107.25ZM118.90 98.65L121.40 102.55L116.40 102.55ZM124.50 113.15L127.00 117.05L122.00 117.05ZM130.40 119.65L132.90 123.55L127.90 123.55ZM136.20 118.55L138.70 122.45L133.70 122.45ZM142.00 129.05L144.50 132.95L139.50 132.95ZM147.40 123.15L149.90 127.05L144.90 127.05ZM153.30 132.35L155.80 136.25L150.80 136.25ZM159.10 142.75L161.60 146.65L156.60 146.65ZM165.00 150.25L167.50 154.15L162.50 154.15ZM170.80 152.55L173.30 156.45L168.30 156.45ZM176.70 162.65L179.20 166.55L174.20 166.55ZM182.40 163.25L184.90 167.15L179.90 167.15ZM188.20 161.25L190.70 165.15L185.70 165.15ZM194.00 170.25L196.50 174.15L191.50 174.15ZM199.90 171.45L202.40 175.35L197.40 175.35ZM205.70 180.85L208.20 184.75L203.20 184.75ZM211.60 166.35L214.10 170.25L209.10 170.25ZM217.40 191.35L219.90 195.25L214.90 195.25ZM222.80 180.85L225.30 184.75L220.30 184.75ZM229.10 190.15L231.60 194.05L226.60 194.05ZM235.00 177.25L237.50 181.15L232.50 181.15ZM240.40 186.05L242.90 189.95L237.90 189.95ZM246.70 198.35L249.20 202.25L244.20 202.25ZM252.30 193.05L254.80 196.95L249.80 196.95ZM258.00 190.45L260.50 194.35L255.50 194.35ZM264.00 206.25L266.50 210.15L261.50 210.15ZM269.70 206.25L272.20 210.15L267.20 210.15ZM275.60 198.95L278.10 202.85L273.10 202.85ZM281.10 208.45L283.60 212.35L278.60 212.35ZM286.80 197.45L289.30 201.35L284.30 201.35ZM292.50 199.85L295.00 203.75L290.00 203.75ZM299.00 198.55L301.50 202.45L296.50 202.45ZM298.80 209.05L301.30 212.95L296.30 212.95ZM304.60 208.45L307.10 212.35L302.10 212.35ZM310.40 208.15L312.90 212.05L307.90 212.05ZM316.40 206.75L318.90 210.65L313.90 210.65ZM322.20 209.05L324.70 212.95L319.70 212.95ZM327.70 207.25L330.20 211.15L325.20 211.15Z" fill="none" stroke="#1e3aa6" stroke-width="1.25" stroke-linejoin="round"/>
<text transform="translate(214.2 18.8) scale(1 1.08)" font-family="Liberation Serif, serif" font-size="13.2" fill="#000" stroke="#000" stroke-width="0.2">Si Target</text>
<ellipse cx="230.8" cy="60.7" rx="38.9" ry="38" fill="#1c6a69"/>
<circle cx="230.5" cy="61.2" r="21.5" fill="#78b2ad"/>
<rect x="226.6" y="37.7" width="8.6" height="19.8" fill="#5f8e8a"/>
<rect x="222.9" y="37.7" width="3.8" height="19.8" fill="#5a4d4a" stroke="#6a4034" stroke-width="0.4"/>
<rect x="229.3" y="37.7" width="3.5" height="19.8" fill="#5a4d4a" stroke="#6a4034" stroke-width="0.4"/>
<rect x="235.1" y="37.7" width="4.6" height="19.8" fill="#5a4d4a" stroke="#6a4034" stroke-width="0.4"/>
<circle cx="230.6" cy="62" r="5.8" fill="#1c6a69"/>
<path d="M231 36V92.5" stroke="#111" stroke-width="1.3"/>
<rect x="221.4" y="34.8" width="19.5" height="57.9" fill="none" stroke="#0a1450" stroke-width="1.6"/>
<rect x="221.4" y="34.8" width="19.5" height="57.9" fill="none" stroke="#14b4f4" stroke-width="1.6" stroke-dasharray="1.4 0.95"/>
<path d="M242.6 61.4L249.4 57.6V65.2Z" fill="#f6e8e2" stroke="#2a55a8" stroke-width="1.2" stroke-linejoin="round"/>
<path d="M230.9 73.6L234.6 80.4H227.2Z" fill="#f6e8e2" stroke="#2a55a8" stroke-width="1.2" stroke-linejoin="round"/>
<g stroke="#111" stroke-width="1" fill="none">
<path d="M242 45.7H262.2"/>
<path d="M272.7 61L250.5 61.4M272.7 61L235.5 75.6"/>
<path d="M190 66.9H210" stroke-width="1.2"/>
<path d="M203 89.5L219.5 90.3"/>
<path d="M260.5 89.8H234"/>
</g>
<g fill="#111">
<path d="M250 61.4l3 -1.6v3.2z"/>
<path d="M235 75.9l3.2 -0.2l-1.4 -2.4z"/>
<path d="M212 66.9l-3 -1.6v3.2z"/>
<path d="M220.3 90.3l-3 -1.6v3.2z"/>
<path d="M233.4 89.8l3 -1.6v3.2z"/>
</g>
<g font-family="Liberation Serif, serif" font-size="11.7" fill="#000" stroke="#000" stroke-width="0.2">
<text transform="translate(266.6 48.2) scale(1 1.1)">W pieces</text>
<text transform="translate(273.6 65.1) scale(1 1.1)">Si Reference</text>
<text transform="translate(273.6 76.2) scale(1 1.1)">samples</text>
<text transform="translate(261.6 92.7) scale(1 1.1)">Long axis</text>
<text transform="translate(145.6 67.1) scale(1 1.1)">Racetrack</text>
<text transform="translate(160.8 89.2) scale(1 1.1)">Substrate</text>
</g>
<g stroke="#333" stroke-width="1.1" fill="none">
<path d="M42.9 264.6V466.4H332.7"/>
<path d="M42.9 466.30h-2.0M42.9 446.12h-4.0M42.9 425.95h-2.0M42.9 405.77h-4.0M42.9 385.60h-2.0M42.9 365.43h-4.0M42.9 345.25h-2.0M42.9 325.08h-4.0M42.9 304.90h-2.0M42.9 284.73h-4.0M42.9 264.55h-2.0"/>
<path d="M91.10 466.4v4M187.65 466.4v4M284.20 466.4v4"/>
</g>
<g font-family="Liberation Sans, sans-serif" font-size="11.8" fill="#000" stroke="#000" stroke-width="0.2" text-anchor="end">
<text transform="translate(35.6 450.23) scale(1 1.08)">5</text>
<text transform="translate(35.6 409.88) scale(1 1.08)">10</text>
<text transform="translate(35.6 369.53) scale(1 1.08)">15</text>
<text transform="translate(35.6 329.18) scale(1 1.08)">20</text>
<text transform="translate(35.6 288.83) scale(1 1.08)">25</text>
</g>
<g font-family="Liberation Sans, sans-serif" font-size="12.1" fill="#000" stroke="#000" stroke-width="0.15" text-anchor="middle">
<text x="91.1" y="482.1">Si + 1W</text>
<text x="187.6" y="482.1">Si + 2W</text>
<text x="284.2" y="482.1">Si + 3W</text>
</g>
<text transform="translate(12.2 368.5) rotate(-90)" text-anchor="middle" font-family="Liberation Serif, serif" font-weight="bold" font-size="14.6" fill="#111">Integral (at.% nm)</text>
<text transform="translate(57.4 272) scale(1 1.03)" font-family="Liberation Serif, serif" font-weight="bold" font-size="22.6" fill="#111">b.</text>
<path d="M91.1 432.6L187.7 395.2L284.3 284.7" fill="none" stroke="#111" stroke-width="1.3"/>
<rect x="87.9" y="429.3" width="6.4" height="6.6" rx="1" fill="#111"/>
<rect x="184.5" y="391.9" width="6.4" height="6.6" rx="1" fill="#111"/>
<rect x="281.1" y="281.4" width="6.4" height="6.6" rx="1" fill="#111"/>
</svg>
</body></html>
